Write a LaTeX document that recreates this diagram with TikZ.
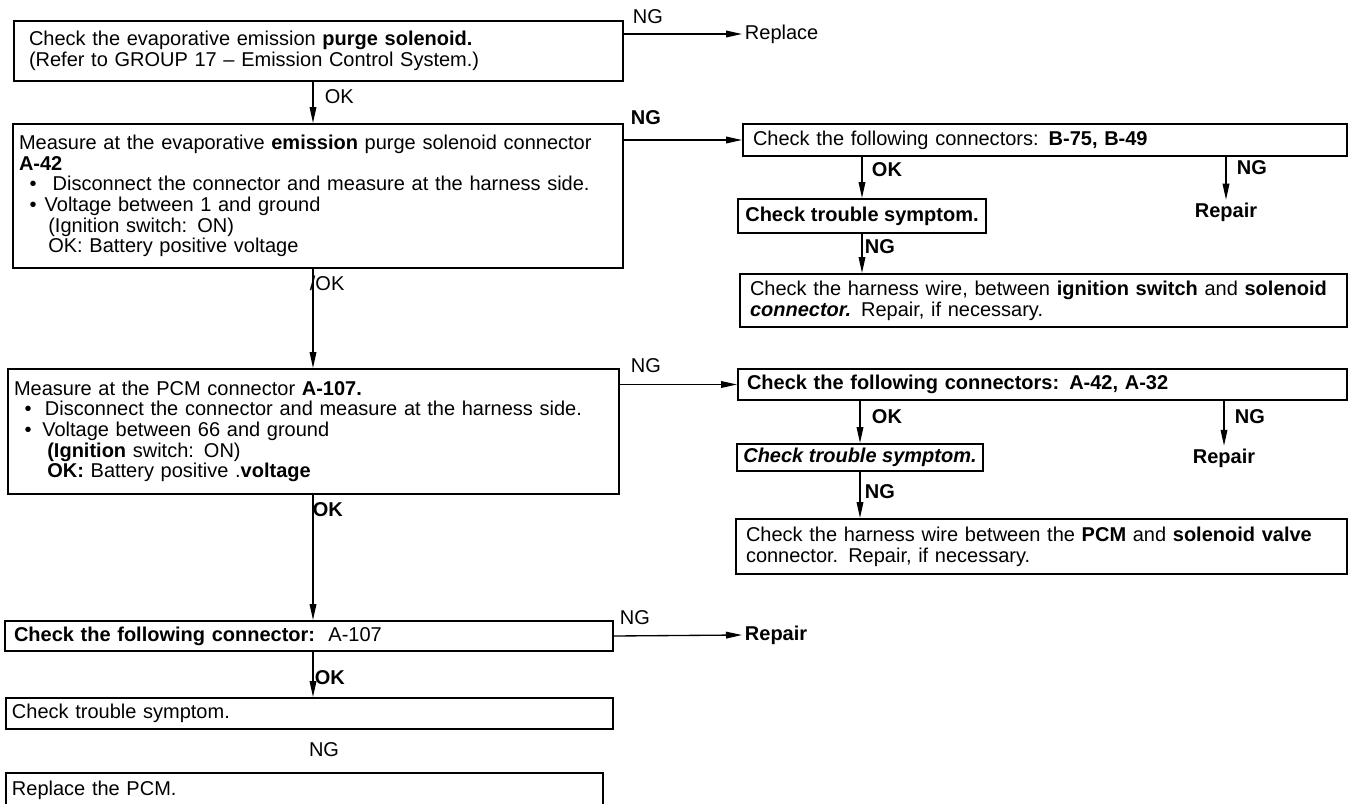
\documentclass[tikz,border=0pt]{standalone}
\usepackage{fontspec}
\setmainfont{Liberation Sans}
\usetikzlibrary{arrows.meta}

\tikzset{
  stepbox/.style={draw, line width=1.5pt, anchor=north west, inner ysep=3pt, align=left},
  flow/.style={line width=1pt, -{Triangle[length=12pt,width=5pt]}},
  tag/.style={anchor=west, inner sep=2pt},
}

\begin{document}
\begin{tikzpicture}[x=0.75pt, y=-0.75pt, every node/.style={font=\fontsize{15}{15.5}\selectfont}]
    \useasboundingbox (0,0) rectangle (1349,803);

    % left column
    \node[stepbox, inner xsep=11.25pt, text width=434.25pt, minimum width=456.75pt, minimum height=45pt] (chkPurge) at (13,20)
        {Check the evaporative emission \textbf{purge solenoid.}\\(Refer to GROUP 17 -- Emission Control System.)};
    \node[stepbox, inner xsep=4.5pt, text width=448.5pt, minimum width=457.5pt, minimum height=108pt] (measSol) at (12,123)
        {\makebox[440pt][s]{Measure at the evaporative \textbf{emission} purge solenoid connector}\\
         \textbf{A-42}\\
         \hspace*{8pt}\textbullet\hspace{12pt}Disconnect the connector and measure at the harness side.\\
         \hspace*{8pt}\textbullet\hspace{6pt}Voltage between 1 and ground\\
         \hspace*{22pt}(Ignition switch: ON)\\
         \hspace*{22pt}OK: Battery positive voltage};
    \node[stepbox, inner xsep=4.5pt, text width=449.25pt, minimum width=458.25pt, minimum height=93.75pt] (pcmMeas) at (7,368)
        {Measure at the PCM connector \textbf{A-107.}\\
         \hspace*{8pt}\textbullet\hspace{10pt}Disconnect the connector and measure at the harness side.\\
         \hspace*{8pt}\textbullet\hspace{8pt}Voltage between 66 and ground\\
         \hspace*{25pt}\textbf{(Ignition} switch: ON)\\
         \hspace*{25pt}\textbf{OK:} Battery positive .\textbf{voltage}};
    \node[stepbox, inner xsep=6.75pt, text width=442.5pt, minimum width=456pt, minimum height=22.5pt] (chkPcm) at (4,620)
        {\textbf{Check the following connector:}\ \ A-107};
    \node[stepbox, inner xsep=4.5pt, text width=446.25pt, minimum width=455.25pt, minimum height=23.25pt] (symPcm) at (5,697)
        {Check trouble symptom.};
    \node[stepbox, inner xsep=4.5pt, text width=438.75pt, minimum width=447.75pt, minimum height=25.5pt] (repPcm) at (5,772)
        {Replace the PCM.};

    % right column
    \node[stepbox, inner xsep=7.5pt, text width=438pt, minimum width=453pt, minimum height=24pt] (chkConnB) at (742,123)
        {\makebox[330pt][s]{Check the following connectors: \textbf{B-75, B-49}}};
    \node[stepbox, align=center, inner xsep=4.5pt, minimum width=186pt, minimum height=25.5pt] (symB) at (737,198)
        {\textbf{Check trouble symptom.}};
    \node[stepbox, inner xsep=7.5pt, text width=440.25pt, minimum width=455.25pt, minimum height=39.75pt] (harnIgn) at (739,273)
        {\makebox[438pt][s]{Check the harness wire, between \textbf{ignition switch} and \textbf{solenoid}}\\
         \textbf{\textit{connector.}} Repair, if necessary.};
    \node[stepbox, inner xsep=6.75pt, text width=443.25pt, minimum width=456.75pt, minimum height=23.25pt] (chkConnA) at (737,368)
        {\textbf{Check the following connectors: A-42, A-32}};
    \node[stepbox, align=center, inner xsep=4.5pt, minimum width=184.5pt, minimum height=20.25pt] (symA) at (736,443)
        {\textbf{\textit{Check trouble symptom.}}};
    \node[stepbox, inner xsep=7.5pt, text width=443.25pt, minimum width=458.25pt, minimum height=41.25pt] (harnPcm) at (735,518)
        {\makebox[438pt][s]{Check the harness wire between the \textbf{PCM} and \textbf{solenoid valve}}\\
         connector. Repair, if necessary.};

    % end texts
    \node[tag] (replaceTxt) at (742,34) {Replace};
    \node[inner sep=2pt] (repairB) at (1226,212) {\textbf{Repair}};
    \node[inner sep=2pt] (repairA) at (1224,458) {\textbf{Repair}};
    \node[tag] (repairJ) at (742,635) {\textbf{Repair}};

    % branch labels
    \node[tag] (ngPurge) at (630,17) {NG};
    \node[tag] (okPurge) at (322,97) {OK};
    \node[tag] (ngSol) at (628,118) {\textbf{NG}};
    \node[tag] (okSol) at (307,283) {/OK};
    \node[tag] (ngPcm) at (628,366) {NG};
    \node[tag] (okPcm) at (310,510) {\textbf{OK}};
    \node[tag] (ngConn) at (617,618) {NG};
    \node[tag] (okConn) at (312,678) {\textbf{OK}};
    \node (ngSym) at (324,750) {NG};
    \foreach \nm/\x/\y/\t in {okB/869/170/OK, ngB/1234/168/NG, ngSymB/862/247/NG, okA/869/417/OK, ngA/1232/417/NG, ngSymA/862/492/NG} {
        \node[tag] (\nm) at (\x,\y) {\textbf{\t}};
    }

    % main spine
    \coordinate (spine) at (313,0);
    \draw[flow] (chkPurge.south -| spine) -- (measSol.north -| spine);
    \draw[flow] (measSol.south -| spine) -- (pcmMeas.north -| spine);
    \draw[flow] (pcmMeas.south -| spine) -- (chkPcm.north -| spine);
    \draw[flow] (chkPcm.south -| spine) -- (symPcm.north -| spine);

    % NG branches
    \draw[flow] (chkPurge.east |- replaceTxt.west) -- (replaceTxt.west);
    \draw[flow] (measSol.east |- chkConnB.west) -- (chkConnB.west);
    \draw[flow] (pcmMeas.east |- chkConnA.west) -- (chkConnA.west);
    \draw[flow] (chkPcm.east) -- (repairJ.west);

    % right column
    \draw[flow] (chkConnB.south -| symB.north) -- (symB.north);
    \draw[flow] (symB.south) -- (symB.south |- harnIgn.north);
    \draw[flow] (chkConnB.south -| repairB.north) -- (repairB.north);
    \draw[flow] (chkConnA.south -| symA.north) -- (symA.north);
    \draw[flow] (symA.south) -- (symA.south |- harnPcm.north);
    \draw[flow] (chkConnA.south -| repairA.north) -- (repairA.north);
\end{tikzpicture}
\end{document}
